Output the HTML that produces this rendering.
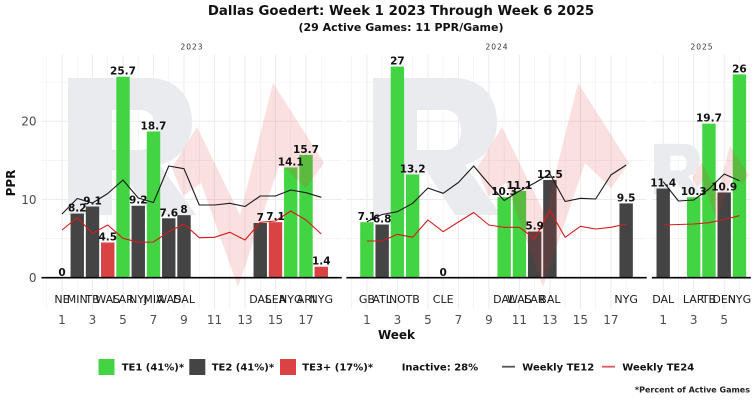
<!DOCTYPE html>
<html>
<head>
<meta charset="utf-8">
<style>
  html,body{margin:0;padding:0;background:#fff;}
  svg{display:block;}
  text{font-family:"DejaVu Sans","Liberation Sans",sans-serif;}
</style>
</head>
<body>
<svg width="756" height="400" viewBox="0 0 756 400" xmlns="http://www.w3.org/2000/svg">
  <defs>
    <path id="logoR" fill-rule="evenodd" fill="#eaebee" d="M68,78 H148 C176,78 192,96 192,122 C192,144 180,159 160,165 L196,215 H150 L121,170 H112 V215 H68 Z M112,110 H140 C150,110 156,118 156,130 C156,142 150,150 140,150 H112 Z"/>
    <polygon id="logoM" fill="rgba(220,50,50,0.15)" points="172,168 197,127 240,215 273,83 324,163 306,188 280,163 238,287 201,183 183,196"/>
  </defs>

  <!-- Title -->
  <text x="401" y="15" font-size="13.3" font-weight="bold" text-anchor="middle" fill="#111">Dallas Goedert: Week 1 2023 Through Week 6 2025</text>
  <text x="401" y="31" font-size="11" font-weight="bold" text-anchor="middle" fill="#111">(29 Active Games: 11 PPR/Game)</text>

  <!-- Strip labels -->
  <g font-size="7.5" fill="#333" text-anchor="middle" letter-spacing="1">
    <text x="192" y="49.5">2023</text>
    <text x="497" y="49.5">2024</text>
    <text x="702" y="49.5">2025</text>
  </g>

  <!-- Grid: horizontal -->
  <g stroke="#ebebeb" stroke-width="1">
    <line x1="41.5" x2="341.8" y1="121.3" y2="121.3"/>
    <line x1="41.5" x2="341.8" y1="199.5" y2="199.5"/>
    <line x1="346.4" x2="646.7" y1="121.3" y2="121.3"/>
    <line x1="346.4" x2="646.7" y1="199.5" y2="199.5"/>
    <line x1="651.8" x2="750.8" y1="121.3" y2="121.3"/>
    <line x1="651.8" x2="750.8" y1="199.5" y2="199.5"/>
  </g>
  <g stroke="#f1f1f1" stroke-width="0.7">
    <line x1="41.5" x2="341.8" y1="82.2" y2="82.2"/>
    <line x1="41.5" x2="341.8" y1="160.4" y2="160.4"/>
    <line x1="41.5" x2="341.8" y1="238.6" y2="238.6"/>
    <line x1="346.4" x2="646.7" y1="82.2" y2="82.2"/>
    <line x1="346.4" x2="646.7" y1="160.4" y2="160.4"/>
    <line x1="346.4" x2="646.7" y1="238.6" y2="238.6"/>
    <line x1="651.8" x2="750.8" y1="82.2" y2="82.2"/>
    <line x1="651.8" x2="750.8" y1="160.4" y2="160.4"/>
    <line x1="651.8" x2="750.8" y1="238.6" y2="238.6"/>
  </g>
  <!-- Grid: vertical major (odd weeks) -->
  <g stroke="#ebebeb" stroke-width="1">
    <line x1="62" x2="62" y1="55" y2="309"/>
    <line x1="92.5" x2="92.5" y1="55" y2="309"/>
    <line x1="123" x2="123" y1="55" y2="309"/>
    <line x1="153.5" x2="153.5" y1="55" y2="309"/>
    <line x1="184" x2="184" y1="55" y2="309"/>
    <line x1="214.5" x2="214.5" y1="55" y2="309"/>
    <line x1="245" x2="245" y1="55" y2="309"/>
    <line x1="275.5" x2="275.5" y1="55" y2="309"/>
    <line x1="306" x2="306" y1="55" y2="309"/>
    <line x1="366.9" x2="366.9" y1="55" y2="309"/>
    <line x1="397.4" x2="397.4" y1="55" y2="309"/>
    <line x1="427.9" x2="427.9" y1="55" y2="309"/>
    <line x1="458.4" x2="458.4" y1="55" y2="309"/>
    <line x1="488.9" x2="488.9" y1="55" y2="309"/>
    <line x1="519.4" x2="519.4" y1="55" y2="309"/>
    <line x1="549.9" x2="549.9" y1="55" y2="309"/>
    <line x1="580.4" x2="580.4" y1="55" y2="309"/>
    <line x1="610.9" x2="610.9" y1="55" y2="309"/>
    <line x1="663.2" x2="663.2" y1="55" y2="309"/>
    <line x1="693.7" x2="693.7" y1="55" y2="309"/>
    <line x1="724.2" x2="724.2" y1="55" y2="309"/>
  </g>
  <!-- Grid: vertical minor (even weeks) -->
  <g stroke="#f1f1f1" stroke-width="0.7">
    <line x1="46.75" x2="46.75" y1="55" y2="309"/>
    <line x1="77.25" x2="77.25" y1="55" y2="309"/>
    <line x1="107.75" x2="107.75" y1="55" y2="309"/>
    <line x1="138.25" x2="138.25" y1="55" y2="309"/>
    <line x1="168.75" x2="168.75" y1="55" y2="309"/>
    <line x1="199.25" x2="199.25" y1="55" y2="309"/>
    <line x1="229.75" x2="229.75" y1="55" y2="309"/>
    <line x1="260.25" x2="260.25" y1="55" y2="309"/>
    <line x1="290.75" x2="290.75" y1="55" y2="309"/>
    <line x1="321.25" x2="321.25" y1="55" y2="309"/>
    <line x1="351.65" x2="351.65" y1="55" y2="309"/>
    <line x1="382.15" x2="382.15" y1="55" y2="309"/>
    <line x1="412.65" x2="412.65" y1="55" y2="309"/>
    <line x1="443.15" x2="443.15" y1="55" y2="309"/>
    <line x1="473.65" x2="473.65" y1="55" y2="309"/>
    <line x1="504.15" x2="504.15" y1="55" y2="309"/>
    <line x1="534.65" x2="534.65" y1="55" y2="309"/>
    <line x1="565.15" x2="565.15" y1="55" y2="309"/>
    <line x1="595.65" x2="595.65" y1="55" y2="309"/>
    <line x1="626.15" x2="626.15" y1="55" y2="309"/>
    <line x1="678.45" x2="678.45" y1="55" y2="309"/>
    <line x1="708.95" x2="708.95" y1="55" y2="309"/>
    <line x1="739.45" x2="739.45" y1="55" y2="309"/>
  </g>

  <!-- Watermark R (under bars) -->
  <use href="#logoR"/>
  <use href="#logoR" transform="translate(305,0)"/>
  <use href="#logoR" transform="translate(702.5,182.5) scale(0.37) translate(-199,-182.5)"/>

  <!-- Bars -->
  <g>
    <!-- 2023 -->
    <rect x="70.55" y="213.58" width="13.4" height="64.12" fill="#444444"/>
    <rect x="85.8" y="206.54" width="13.4" height="71.16" fill="#444444"/>
    <rect x="101.05" y="242.51" width="13.4" height="35.19" fill="#d94343"/>
    <rect x="116.3" y="76.73" width="13.4" height="200.97" fill="#43d443"/>
    <rect x="131.55" y="205.76" width="13.4" height="71.94" fill="#444444"/>
    <rect x="146.8" y="131.47" width="13.4" height="146.23" fill="#43d443"/>
    <rect x="162.05" y="218.27" width="13.4" height="59.43" fill="#444444"/>
    <rect x="177.3" y="215.14" width="13.4" height="62.56" fill="#444444"/>
    <rect x="253.55" y="222.96" width="13.4" height="54.74" fill="#444444"/>
    <rect x="268.8" y="222.18" width="13.4" height="55.52" fill="#d94343"/>
    <rect x="284.05" y="167.44" width="13.4" height="110.26" fill="#43d443"/>
    <rect x="299.3" y="154.93" width="13.4" height="122.77" fill="#43d443"/>
    <rect x="314.55" y="266.75" width="13.4" height="10.95" fill="#d94343"/>
    <!-- 2024 -->
    <rect x="360.2" y="222.18" width="13.4" height="55.52" fill="#43d443"/>
    <rect x="375.45" y="224.52" width="13.4" height="53.18" fill="#444444"/>
    <rect x="390.7" y="66.56" width="13.4" height="211.14" fill="#43d443"/>
    <rect x="405.95" y="174.48" width="13.4" height="103.22" fill="#43d443"/>
    <rect x="497.45" y="197.15" width="13.4" height="80.55" fill="#43d443"/>
    <rect x="512.7" y="190.9" width="13.4" height="86.8" fill="#43d443"/>
    <rect x="527.95" y="231.56" width="13.4" height="46.14" fill="#444444"/>
    <rect x="543.2" y="179.95" width="13.4" height="97.75" fill="#444444"/>
    <rect x="619.45" y="203.41" width="13.4" height="74.29" fill="#444444"/>
    <!-- 2025 -->
    <rect x="656.5" y="188.55" width="13.4" height="89.15" fill="#444444"/>
    <rect x="687" y="197.15" width="13.4" height="80.55" fill="#43d443"/>
    <rect x="702.25" y="123.65" width="13.4" height="154.05" fill="#43d443"/>
    <rect x="717.5" y="192.46" width="13.4" height="85.24" fill="#444444"/>
    <rect x="732.75" y="74.38" width="13.4" height="203.32" fill="#43d443"/>
  </g>

  <!-- Watermark pink shape (over bars) -->
  <use href="#logoM"/>
  <use href="#logoM" transform="translate(305,0)"/>
  <use href="#logoM" transform="translate(702.5,182.5) scale(0.37) translate(-199,-182.5)"/>

  <!-- Weekly lines -->
  <g fill="none" stroke-width="1.1" stroke-linejoin="round">
    <polyline stroke="#1a1a1a" points="62,214 77.25,198.5 92.5,203 107.75,193.5 123,180 138.25,198 153.5,202.5 168.75,166 184,168.7 199.25,205 214.5,205 229.75,203.3 245,206.5 260.25,196 275.5,196 290.75,190 306,192.7 321.25,197.3"/>
    <polyline stroke="#d41c1c" points="62,230 77.25,217.7 92.5,233.3 107.75,225 123,238.3 138.25,242.3 153.5,242 168.75,231.7 184,224 199.25,237.7 214.5,237.3 229.75,232.3 245,240 260.25,222.3 275.5,221 290.75,211 306,220 321.25,234"/>
    <polyline stroke="#1a1a1a" points="366.9,221.7 382.15,214.5 397.4,211.7 412.65,203.3 427.9,188 443.15,193.3 458.4,182.5 473.65,166 488.9,184 504.15,200.5 519.4,191 534.65,183 549.9,174 565.15,201.5 580.4,198.3 595.65,199 610.9,175 626.15,165"/>
    <polyline stroke="#d41c1c" points="366.9,241 382.15,241 397.4,234.3 412.65,237.3 427.9,220 443.15,231.7 458.4,222 473.65,212.5 488.9,225 504.15,227.3 519.4,227.3 534.65,238.7 549.9,210.7 565.15,237.3 580.4,226.3 595.65,229 610.9,227.3 626.15,224"/>
    <polyline stroke="#1a1a1a" points="663.2,181.7 678.45,201 693.7,200 708.95,189 724.2,174 739.45,180.7"/>
    <polyline stroke="#d41c1c" points="663.2,225 678.45,224.5 693.7,224 708.95,222.7 724.2,219.5 739.45,215.7"/>
  </g>

  <!-- Zero axis lines -->
  <g stroke="#000" stroke-width="1.6">
    <line x1="41.5" x2="341.8" y1="277.7" y2="277.7"/>
    <line x1="346.4" x2="646.7" y1="277.7" y2="277.7"/>
    <line x1="651.8" x2="750.8" y1="277.7" y2="277.7"/>
  </g>

  <!-- Value labels -->
  <g font-size="10.5" font-weight="bold" text-anchor="middle" fill="#111">
    <text x="62" y="276">0</text>
    <text x="77.25" y="211.5">8.2</text>
    <text x="92.5" y="204.5">9.1</text>
    <text x="107.75" y="240.5">4.5</text>
    <text x="123" y="74.7">25.7</text>
    <text x="138.25" y="203.7">9.2</text>
    <text x="153.5" y="129.5">18.7</text>
    <text x="168.75" y="216.3">7.6</text>
    <text x="184" y="213.1">8</text>
    <text x="260.25" y="221">7</text>
    <text x="275.5" y="220.2">7.1</text>
    <text x="290.75" y="165.4">14.1</text>
    <text x="306" y="152.9">15.7</text>
    <text x="321.25" y="264.7">1.4</text>

    <text x="366.9" y="220.2">7.1</text>
    <text x="382.15" y="222.5">6.8</text>
    <text x="397.4" y="64.5">27</text>
    <text x="412.65" y="172.5">13.2</text>
    <text x="443.15" y="276">0</text>
    <text x="504.15" y="195.1">10.3</text>
    <text x="519.4" y="188.9">11.1</text>
    <text x="534.65" y="229.5">5.9</text>
    <text x="549.9" y="178">12.5</text>
    <text x="626.15" y="201.4">9.5</text>

    <text x="663.2" y="186.5">11.4</text>
    <text x="693.7" y="195.1">10.3</text>
    <text x="708.95" y="121.6">19.7</text>
    <text x="724.2" y="190.4">10.9</text>
    <text x="739.45" y="72.4">26</text>
  </g>

  <!-- Team labels -->
  <g font-size="11" text-anchor="middle" fill="#1a1a1a">
    <text x="62" y="303">NE</text>
    <text x="77.25" y="303">MIN</text>
    <text x="92.5" y="303">TB</text>
    <text x="107.75" y="303">WAS</text>
    <text x="123" y="303">LAR</text>
    <text x="138.25" y="303">NYJ</text>
    <text x="153.5" y="303">MIA</text>
    <text x="168.75" y="303">WAS</text>
    <text x="184" y="303">DAL</text>
    <text x="260.25" y="303">DAL</text>
    <text x="275.5" y="303">SEA</text>
    <text x="290.75" y="303">NYG</text>
    <text x="306" y="303">ARI</text>
    <text x="321.25" y="303">NYG</text>

    <text x="366.9" y="303">GB</text>
    <text x="382.15" y="303">ATL</text>
    <text x="397.4" y="303">NO</text>
    <text x="412.65" y="303">TB</text>
    <text x="443.15" y="303">CLE</text>
    <text x="504.15" y="303">DAL</text>
    <text x="519.4" y="303">WAS</text>
    <text x="534.65" y="303">LAR</text>
    <text x="549.9" y="303">BAL</text>
    <text x="626.15" y="303">NYG</text>

    <text x="663.2" y="303">DAL</text>
    <text x="693.7" y="303">LAR</text>
    <text x="708.95" y="303">TB</text>
    <text x="724.2" y="303">DEN</text>
    <text x="739.45" y="303">NYG</text>
  </g>

  <!-- Week tick labels -->
  <g font-size="12" text-anchor="middle" fill="#4d4d4d">
    <text x="62" y="324">1</text>
    <text x="92.5" y="324">3</text>
    <text x="123" y="324">5</text>
    <text x="153.5" y="324">7</text>
    <text x="184" y="324">9</text>
    <text x="214.5" y="324">11</text>
    <text x="245" y="324">13</text>
    <text x="275.5" y="324">15</text>
    <text x="306" y="324">17</text>

    <text x="366.9" y="324">1</text>
    <text x="397.4" y="324">3</text>
    <text x="427.9" y="324">5</text>
    <text x="458.4" y="324">7</text>
    <text x="488.9" y="324">9</text>
    <text x="519.4" y="324">11</text>
    <text x="549.9" y="324">13</text>
    <text x="580.4" y="324">15</text>
    <text x="610.9" y="324">17</text>

    <text x="663.2" y="324">1</text>
    <text x="693.7" y="324">3</text>
    <text x="724.2" y="324">5</text>
  </g>

  <!-- Y tick labels -->
  <g font-size="12" text-anchor="end" fill="#4d4d4d">
    <text x="36.5" y="282">0</text>
    <text x="36.5" y="203.8">10</text>
    <text x="36.5" y="125.6">20</text>
  </g>

  <!-- Axis titles -->
  <text transform="translate(15,183) rotate(-90)" text-anchor="middle" font-size="12" font-weight="bold" fill="#111">PPR</text>
  <text x="396.5" y="339" text-anchor="middle" font-size="12" font-weight="bold" fill="#111">Week</text>

  <!-- Legend -->
  <rect x="98.5" y="359" width="16" height="16" fill="#43d443"/>
  <rect x="189.3" y="359" width="16" height="16" fill="#444444"/>
  <rect x="280" y="359" width="16" height="16" fill="#d94343"/>
  <g font-size="10" font-weight="bold" fill="#111">
    <text x="121.7" y="370.5">TE1 (41%)*</text>
    <text x="211.7" y="370.5">TE2 (41%)*</text>
    <text x="302.3" y="370.5">TE3+ (17%)*</text>
    <text x="401.7" y="370.5">Inactive: 28%</text>
    <text x="522.3" y="370.5">Weekly TE12</text>
    <text x="622.3" y="370.5">Weekly TE24</text>
  </g>
  <line x1="502" x2="515" y1="366.7" y2="366.7" stroke="#555" stroke-width="1.8"/>
  <line x1="602" x2="615" y1="366.7" y2="366.7" stroke="#e05a5a" stroke-width="1.8"/>

  <!-- Footnote -->
  <text x="750" y="392.5" text-anchor="end" font-size="8" font-weight="bold" fill="#222">*Percent of Active Games</text>
</svg>
</body>
</html>
